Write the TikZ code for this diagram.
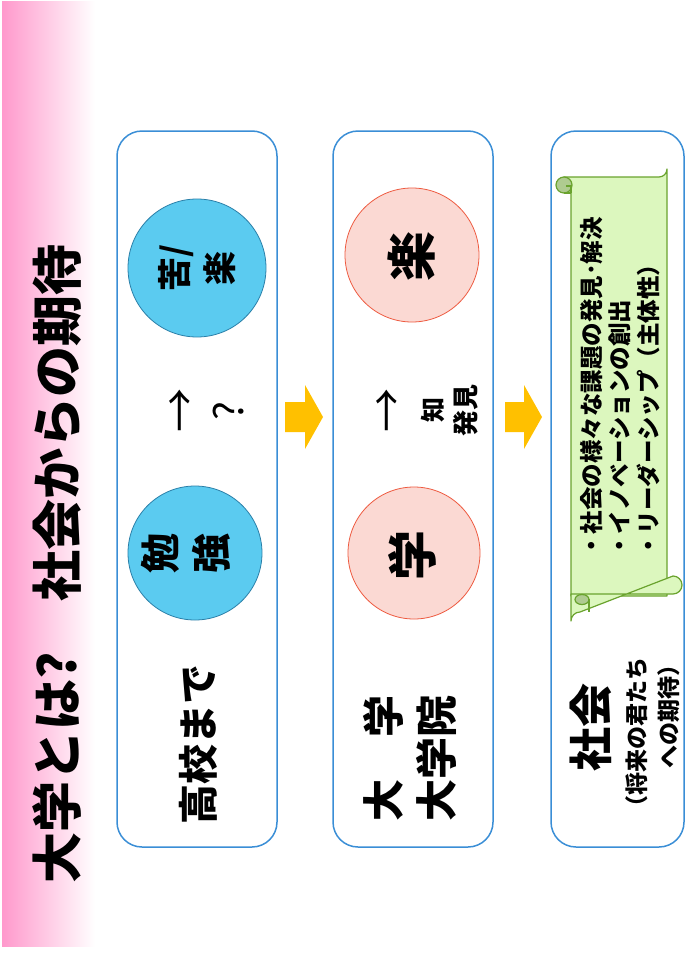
\documentclass[tikz,border=0pt]{standalone}
\usepackage{fontspec}
\setmainfont{Noto Sans CJK JP}
\definecolor{bandpink}{HTML}{FF99CC}
\definecolor{panelblue}{HTML}{3A8ED6}
\definecolor{cblue}{HTML}{2A7FA8}
\definecolor{cbluefill}{HTML}{5BCBF0}
\definecolor{cred}{HTML}{EE5A40}
\definecolor{cpink}{HTML}{FBD9D3}
\definecolor{yarrowc}{HTML}{FFC000}
\definecolor{scrollfill}{HTML}{DCF7BE}
\definecolor{scrolldraw}{HTML}{6AA32E}
\definecolor{curlfill}{HTML}{AFCB90}
\tikzset{
  panel/.style={draw=panelblue, line width=1.5pt, rounded corners=25pt, fill=white, inner sep=0pt},
  bluecirc/.style={circle, draw=cblue, fill=cbluefill, line width=0.8pt, inner sep=0pt},
  pinkcirc/.style={circle, draw=cred, fill=cpink, line width=0.8pt, inner sep=0pt},
  vt/.style={rotate=90, inner sep=0pt, text=black},
  blockarrow/.style={fill=yarrowc, draw=none},
  scrollbody/.style={fill=scrollfill, draw=scrolldraw, line width=1.2pt, line join=round},
  curl/.style={fill=curlfill, draw=scrolldraw, line width=1.2pt},
}
\begin{document}
\begin{tikzpicture}[x=1pt,y=-1pt]
\useasboundingbox (0,0) rectangle (685,953);
% title band
\shade[left color=bandpink, right color=white] (2,1) rectangle (95,946);
\node[vt, font=\bfseries\fontsize{51}{51}\selectfont] (title) at (57,564) {大学とは?　社会からの期待};

% panels
\node[panel, minimum width=160pt, minimum height=716pt] (p1) at (197,489) {};
\node[panel, minimum width=160pt, minimum height=716pt] (p2) at (413,489) {};
\node[panel, minimum width=133pt, minimum height=716pt] (p3) at (617.5,489) {};

% panel 1
\node[bluecirc, minimum size=138pt] (ku) at (197,268) {};
\node[vt, align=center, font=\bfseries\fontsize{34}{45}\selectfont] (kutext) at (197,268) {苦/\\楽};
\node[bluecirc, minimum size=134pt] (ben) at (195,553) {};
\node[vt, align=center, font=\bfseries\fontsize{40}{51}\selectfont] (bentext) at (186,553) {勉\\強};
\node[vt, font=\fontsize{44}{44}\selectfont] (ar1) at (183,410) {→};
\node[vt, font=\fontsize{40}{40}\selectfont] (q1) at (229,411) {?};
\node[vt, font=\bfseries\fontsize{40}{40}\selectfont] (koko) at (198,744) {高校まで};

% panel 2
\node[pinkcirc, minimum size=134pt] (raku) at (412,255) {};
\node[vt, font=\bfseries\fontsize{50}{50}\selectfont] (rakutext) at (411,256) {楽};
\node[pinkcirc, minimum size=132pt] (gaku) at (414,553) {};
\node[vt, font=\bfseries\fontsize{50}{50}\selectfont] (gakutext) at (412,555) {学};
\node[vt, font=\fontsize{44}{44}\selectfont] (ar2) at (390,410) {→};
\node[vt, font=\bfseries\fontsize{25}{25}\selectfont] (chi) at (433,410) {知};
\node[vt, font=\bfseries\fontsize{26}{26}\selectfont] (hakken) at (466,410) {発見};
\node[vt, align=left, font=\bfseries\fontsize{42}{53}\selectfont] (daigaku) at (410,758) {大　学\\大学院};

% block arrows
\fill[blockarrow] (285,402) -- (305,402) -- (305,385) -- (323,417) -- (305,449) -- (305,432) -- (285,432) -- cycle;
\fill[blockarrow] (505,402) -- (524,402) -- (524,385) -- (542,417) -- (524,449) -- (524,432) -- (505,432) -- cycle;

% scroll
\path[scrollbody] (564,177) -- (659,177) arc[start angle=90, end angle=0, radius=8] -- (667,596) -- (571,596) -- (571,193) -- cycle;
\path[curl] (564,185) circle (8);
\draw[scrolldraw, line width=1.2pt] (564,193) -- (571,193) (566,186) -- (571,186) -- (571,193);
\path[scrollbody] (571,594) -- (673,594) arc[start angle=90, end angle=-90, radius=9] -- (580,612) arc[start angle=270, end angle=180, radius=9] -- cycle;
\path[curl] (582,599.5) ellipse (7 and 5);
\draw[scrolldraw, line width=1.2pt] (589,599) -- (589,612);

\node[vt, anchor=west, align=left, font=\bfseries\fontsize{23.5}{28.5}\selectfont] (stext) at (620,558) {・社会の様々な課題の発見･解決\\・イノベーションの創出\\・リーダーシップ（主体性）};

% panel 3 label
\node[vt, font=\bfseries\fontsize{44}{44}\selectfont] (shakai) at (591,727) {社会};
\node[vt, font=\bfseries\fontsize{23}{23}\selectfont] (kitai1) at (637,738) {（将来の君たち};
\node[vt, font=\bfseries\fontsize{23}{23}\selectfont] (kitai2) at (669,711) {への期待）};
\end{tikzpicture}
\end{document}
